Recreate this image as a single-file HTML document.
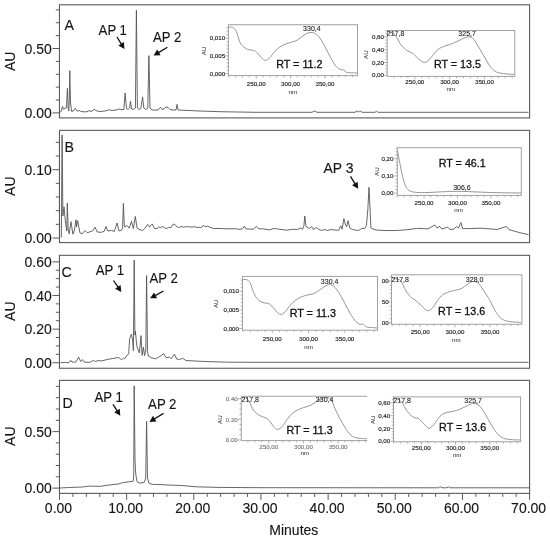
<!DOCTYPE html>
<html><head><meta charset="utf-8"><title>Chromatograms</title>
<style>html,body{margin:0;padding:0;background:#fff;}body{width:550px;height:537px;overflow:hidden;font-family:"Liberation Sans", sans-serif;}svg{display:block;filter:blur(0.5px);}</style>
</head><body>
<svg width="550" height="537" viewBox="0 0 550 537" font-family="'Liberation Sans', sans-serif">
<rect width="550" height="537" fill="#fff"/>
<line x1="52.5" y1="112.9" x2="59.47" y2="112.9" stroke="#5a5a5a" stroke-width="1"/>
<line x1="55.8" y1="100.02" x2="59.47" y2="100.02" stroke="#5a5a5a" stroke-width="1"/>
<line x1="55.8" y1="87.14" x2="59.47" y2="87.14" stroke="#5a5a5a" stroke-width="1"/>
<line x1="55.8" y1="74.26" x2="59.47" y2="74.26" stroke="#5a5a5a" stroke-width="1"/>
<line x1="55.8" y1="61.38" x2="59.47" y2="61.38" stroke="#5a5a5a" stroke-width="1"/>
<line x1="52.5" y1="48.5" x2="59.47" y2="48.5" stroke="#5a5a5a" stroke-width="1"/>
<line x1="55.8" y1="35.62" x2="59.47" y2="35.62" stroke="#5a5a5a" stroke-width="1"/>
<line x1="55.8" y1="22.74" x2="59.47" y2="22.74" stroke="#5a5a5a" stroke-width="1"/>
<line x1="55.8" y1="9.86" x2="59.47" y2="9.86" stroke="#5a5a5a" stroke-width="1"/>
<text transform="translate(51.8,118.2) scale(1,1.06)" font-size="14" fill="#151515" stroke="#151515" stroke-width="0.12" text-anchor="end" >0.00</text>
<text transform="translate(51.8,53.8) scale(1,1.06)" font-size="14" fill="#151515" stroke="#151515" stroke-width="0.12" text-anchor="end" >0.50</text>
<text transform="translate(15.2,61.3) rotate(-90)" font-size="14" fill="#151515" stroke="#151515" stroke-width="0.12" text-anchor="middle">AU</text>
<text transform="translate(64.6,30) scale(1,1.06)" font-size="14.2" fill="#151515" stroke="#151515" stroke-width="0.12" text-anchor="start" >A</text>
<line x1="52.5" y1="238" x2="59.47" y2="238" stroke="#5a5a5a" stroke-width="1"/>
<line x1="55.8" y1="224.34" x2="59.47" y2="224.34" stroke="#5a5a5a" stroke-width="1"/>
<line x1="55.8" y1="210.68" x2="59.47" y2="210.68" stroke="#5a5a5a" stroke-width="1"/>
<line x1="55.8" y1="197.02" x2="59.47" y2="197.02" stroke="#5a5a5a" stroke-width="1"/>
<line x1="55.8" y1="183.36" x2="59.47" y2="183.36" stroke="#5a5a5a" stroke-width="1"/>
<line x1="52.5" y1="169.7" x2="59.47" y2="169.7" stroke="#5a5a5a" stroke-width="1"/>
<line x1="55.8" y1="156.04" x2="59.47" y2="156.04" stroke="#5a5a5a" stroke-width="1"/>
<line x1="55.8" y1="142.38" x2="59.47" y2="142.38" stroke="#5a5a5a" stroke-width="1"/>
<text transform="translate(51.8,243.3) scale(1,1.06)" font-size="14" fill="#151515" stroke="#151515" stroke-width="0.12" text-anchor="end" >0.00</text>
<text transform="translate(51.8,175) scale(1,1.06)" font-size="14" fill="#151515" stroke="#151515" stroke-width="0.12" text-anchor="end" >0.10</text>
<text transform="translate(15.2,186.2) rotate(-90)" font-size="14" fill="#151515" stroke="#151515" stroke-width="0.12" text-anchor="middle">AU</text>
<text transform="translate(64.6,151.6) scale(1,1.06)" font-size="14.2" fill="#151515" stroke="#151515" stroke-width="0.12" text-anchor="start" >B</text>
<line x1="52.5" y1="362.75" x2="59.47" y2="362.75" stroke="#5a5a5a" stroke-width="1"/>
<line x1="55.8" y1="354.34" x2="59.47" y2="354.34" stroke="#5a5a5a" stroke-width="1"/>
<line x1="55.8" y1="345.93" x2="59.47" y2="345.93" stroke="#5a5a5a" stroke-width="1"/>
<line x1="55.8" y1="337.52" x2="59.47" y2="337.52" stroke="#5a5a5a" stroke-width="1"/>
<line x1="52.5" y1="329.11" x2="59.47" y2="329.11" stroke="#5a5a5a" stroke-width="1"/>
<line x1="55.8" y1="320.7" x2="59.47" y2="320.7" stroke="#5a5a5a" stroke-width="1"/>
<line x1="55.8" y1="312.29" x2="59.47" y2="312.29" stroke="#5a5a5a" stroke-width="1"/>
<line x1="55.8" y1="303.88" x2="59.47" y2="303.88" stroke="#5a5a5a" stroke-width="1"/>
<line x1="52.5" y1="295.47" x2="59.47" y2="295.47" stroke="#5a5a5a" stroke-width="1"/>
<line x1="55.8" y1="287.06" x2="59.47" y2="287.06" stroke="#5a5a5a" stroke-width="1"/>
<line x1="55.8" y1="278.65" x2="59.47" y2="278.65" stroke="#5a5a5a" stroke-width="1"/>
<line x1="55.8" y1="270.24" x2="59.47" y2="270.24" stroke="#5a5a5a" stroke-width="1"/>
<line x1="52.5" y1="261.83" x2="59.47" y2="261.83" stroke="#5a5a5a" stroke-width="1"/>
<text transform="translate(51.8,368.05) scale(1,1.06)" font-size="14" fill="#151515" stroke="#151515" stroke-width="0.12" text-anchor="end" >0.00</text>
<text transform="translate(51.8,334.41) scale(1,1.06)" font-size="14" fill="#151515" stroke="#151515" stroke-width="0.12" text-anchor="end" >0.20</text>
<text transform="translate(51.8,300.77) scale(1,1.06)" font-size="14" fill="#151515" stroke="#151515" stroke-width="0.12" text-anchor="end" >0.40</text>
<text transform="translate(51.8,267.13) scale(1,1.06)" font-size="14" fill="#151515" stroke="#151515" stroke-width="0.12" text-anchor="end" >0.60</text>
<text transform="translate(15.2,311.2) rotate(-90)" font-size="14" fill="#151515" stroke="#151515" stroke-width="0.12" text-anchor="middle">AU</text>
<text transform="translate(61.4,277) scale(1,1.06)" font-size="14.2" fill="#151515" stroke="#151515" stroke-width="0.12" text-anchor="start" >C</text>
<line x1="52.5" y1="488.1" x2="59.47" y2="488.1" stroke="#5a5a5a" stroke-width="1"/>
<line x1="55.8" y1="476.8" x2="59.47" y2="476.8" stroke="#5a5a5a" stroke-width="1"/>
<line x1="55.8" y1="465.5" x2="59.47" y2="465.5" stroke="#5a5a5a" stroke-width="1"/>
<line x1="55.8" y1="454.2" x2="59.47" y2="454.2" stroke="#5a5a5a" stroke-width="1"/>
<line x1="55.8" y1="442.9" x2="59.47" y2="442.9" stroke="#5a5a5a" stroke-width="1"/>
<line x1="52.5" y1="431.6" x2="59.47" y2="431.6" stroke="#5a5a5a" stroke-width="1"/>
<line x1="55.8" y1="420.3" x2="59.47" y2="420.3" stroke="#5a5a5a" stroke-width="1"/>
<line x1="55.8" y1="409" x2="59.47" y2="409" stroke="#5a5a5a" stroke-width="1"/>
<line x1="55.8" y1="397.7" x2="59.47" y2="397.7" stroke="#5a5a5a" stroke-width="1"/>
<line x1="55.8" y1="386.4" x2="59.47" y2="386.4" stroke="#5a5a5a" stroke-width="1"/>
<text transform="translate(51.8,493.4) scale(1,1.06)" font-size="14" fill="#151515" stroke="#151515" stroke-width="0.12" text-anchor="end" >0.00</text>
<text transform="translate(51.8,436.9) scale(1,1.06)" font-size="14" fill="#151515" stroke="#151515" stroke-width="0.12" text-anchor="end" >0.50</text>
<text transform="translate(15.2,436.2) rotate(-90)" font-size="14" fill="#151515" stroke="#151515" stroke-width="0.12" text-anchor="middle">AU</text>
<text transform="translate(62.4,408.1) scale(1,1.06)" font-size="14.2" fill="#151515" stroke="#151515" stroke-width="0.12" text-anchor="start" >D</text>
<line x1="59.47" y1="493.37" x2="59.47" y2="499.87" stroke="#5a5a5a" stroke-width="1"/>
<line x1="72.9" y1="493.37" x2="72.9" y2="496.87" stroke="#5a5a5a" stroke-width="1"/>
<line x1="86.33" y1="493.37" x2="86.33" y2="496.87" stroke="#5a5a5a" stroke-width="1"/>
<line x1="99.77" y1="493.37" x2="99.77" y2="496.87" stroke="#5a5a5a" stroke-width="1"/>
<line x1="113.2" y1="493.37" x2="113.2" y2="496.87" stroke="#5a5a5a" stroke-width="1"/>
<line x1="126.63" y1="493.37" x2="126.63" y2="499.87" stroke="#5a5a5a" stroke-width="1"/>
<line x1="140.06" y1="493.37" x2="140.06" y2="496.87" stroke="#5a5a5a" stroke-width="1"/>
<line x1="153.5" y1="493.37" x2="153.5" y2="496.87" stroke="#5a5a5a" stroke-width="1"/>
<line x1="166.93" y1="493.37" x2="166.93" y2="496.87" stroke="#5a5a5a" stroke-width="1"/>
<line x1="180.36" y1="493.37" x2="180.36" y2="496.87" stroke="#5a5a5a" stroke-width="1"/>
<line x1="193.79" y1="493.37" x2="193.79" y2="499.87" stroke="#5a5a5a" stroke-width="1"/>
<line x1="207.23" y1="493.37" x2="207.23" y2="496.87" stroke="#5a5a5a" stroke-width="1"/>
<line x1="220.66" y1="493.37" x2="220.66" y2="496.87" stroke="#5a5a5a" stroke-width="1"/>
<line x1="234.09" y1="493.37" x2="234.09" y2="496.87" stroke="#5a5a5a" stroke-width="1"/>
<line x1="247.52" y1="493.37" x2="247.52" y2="496.87" stroke="#5a5a5a" stroke-width="1"/>
<line x1="260.95" y1="493.37" x2="260.95" y2="499.87" stroke="#5a5a5a" stroke-width="1"/>
<line x1="274.39" y1="493.37" x2="274.39" y2="496.87" stroke="#5a5a5a" stroke-width="1"/>
<line x1="287.82" y1="493.37" x2="287.82" y2="496.87" stroke="#5a5a5a" stroke-width="1"/>
<line x1="301.25" y1="493.37" x2="301.25" y2="496.87" stroke="#5a5a5a" stroke-width="1"/>
<line x1="314.68" y1="493.37" x2="314.68" y2="496.87" stroke="#5a5a5a" stroke-width="1"/>
<line x1="328.12" y1="493.37" x2="328.12" y2="499.87" stroke="#5a5a5a" stroke-width="1"/>
<line x1="341.55" y1="493.37" x2="341.55" y2="496.87" stroke="#5a5a5a" stroke-width="1"/>
<line x1="354.98" y1="493.37" x2="354.98" y2="496.87" stroke="#5a5a5a" stroke-width="1"/>
<line x1="368.41" y1="493.37" x2="368.41" y2="496.87" stroke="#5a5a5a" stroke-width="1"/>
<line x1="381.84" y1="493.37" x2="381.84" y2="496.87" stroke="#5a5a5a" stroke-width="1"/>
<line x1="395.28" y1="493.37" x2="395.28" y2="499.87" stroke="#5a5a5a" stroke-width="1"/>
<line x1="408.71" y1="493.37" x2="408.71" y2="496.87" stroke="#5a5a5a" stroke-width="1"/>
<line x1="422.14" y1="493.37" x2="422.14" y2="496.87" stroke="#5a5a5a" stroke-width="1"/>
<line x1="435.57" y1="493.37" x2="435.57" y2="496.87" stroke="#5a5a5a" stroke-width="1"/>
<line x1="449.01" y1="493.37" x2="449.01" y2="496.87" stroke="#5a5a5a" stroke-width="1"/>
<line x1="462.44" y1="493.37" x2="462.44" y2="499.87" stroke="#5a5a5a" stroke-width="1"/>
<line x1="475.87" y1="493.37" x2="475.87" y2="496.87" stroke="#5a5a5a" stroke-width="1"/>
<line x1="489.3" y1="493.37" x2="489.3" y2="496.87" stroke="#5a5a5a" stroke-width="1"/>
<line x1="502.74" y1="493.37" x2="502.74" y2="496.87" stroke="#5a5a5a" stroke-width="1"/>
<line x1="516.17" y1="493.37" x2="516.17" y2="496.87" stroke="#5a5a5a" stroke-width="1"/>
<line x1="529.6" y1="493.37" x2="529.6" y2="499.87" stroke="#5a5a5a" stroke-width="1"/>
<text transform="translate(58.47,512.7) scale(1,1.06)" font-size="14" fill="#151515" stroke="#151515" stroke-width="0.12" text-anchor="middle" >0.00</text>
<text transform="translate(125.63,512.7) scale(1,1.06)" font-size="14" fill="#151515" stroke="#151515" stroke-width="0.12" text-anchor="middle" >10.00</text>
<text transform="translate(192.79,512.7) scale(1,1.06)" font-size="14" fill="#151515" stroke="#151515" stroke-width="0.12" text-anchor="middle" >20.00</text>
<text transform="translate(259.95,512.7) scale(1,1.06)" font-size="14" fill="#151515" stroke="#151515" stroke-width="0.12" text-anchor="middle" >30.00</text>
<text transform="translate(327.12,512.7) scale(1,1.06)" font-size="14" fill="#151515" stroke="#151515" stroke-width="0.12" text-anchor="middle" >40.00</text>
<text transform="translate(394.28,512.7) scale(1,1.06)" font-size="14" fill="#151515" stroke="#151515" stroke-width="0.12" text-anchor="middle" >50.00</text>
<text transform="translate(461.44,512.7) scale(1,1.06)" font-size="14" fill="#151515" stroke="#151515" stroke-width="0.12" text-anchor="middle" >60.00</text>
<text transform="translate(528.6,512.7) scale(1,1.06)" font-size="14" fill="#151515" stroke="#151515" stroke-width="0.12" text-anchor="middle" >70.00</text>
<text transform="translate(293.8,534.7) scale(1,1.06)" font-size="14" fill="#151515" stroke="#151515" stroke-width="0.12" text-anchor="middle" >Minutes</text>
<polyline points="60.2,112 61,111.8 62.5,106.3 63.5,109.3 65,108.3 66.5,107.8 67.4,88.3 68.2,108 68.7,111 69.2,104 69.8,70.6 70.5,102 70.9,106 71.6,111.3 73.1,111.1 75.3,108.3 77.1,111.1 79.1,110.5 81.2,111.5 84,111.8 87,111.8 89,110.6 91,111.5 94.25,109.4 97,111 100,111.5 105,111 109.25,109.75 112,110.5 116,110 119.25,109 121,109.5 123.8,109.5 125.1,93 126.5,108.5 128,109.5 129.6,108 130.5,101.25 131.5,109 133,109.5 135.4,108 136.4,10.25 137.4,108 139,109.5 140.8,108.5 142.6,96.9 143.8,108 146,109.5 147.8,108 148.9,55.6 150,108 152,110 155,110 158,110 160.5,107.25 162,109.5 164,109 166,106.9 168,107.5 170,109.5 173,110 176,110 177,104.4 178,110 182,110.2 200,111 220,111.7 255,112.3 312,112.3 314.5,111 317,112.3 355,112.3 357,111 358.5,112 360,111 362,112.3 375,112.3 376.5,111.3 378,112.3 528.5,112.3" fill="none" stroke="#555555" stroke-width="0.9" stroke-linejoin="round"/>
<polyline points="61.3,237.5 62.1,135 62.9,216 64,206.8 65,218 66,226 66.8,231 67.3,203 68.2,230 69.2,233.8 71,221.7 72.9,234.2 74.5,230 75.9,219.8 76.6,226.8 77.7,220.7 79.9,232.8 82.2,233.8 85,230.5 87.3,232.8 89.7,231.9 92.4,231 95,227.2 97.1,231.9 100.8,232.4 104.1,231.4 106.1,226.5 107.8,231 111.5,230.5 114.3,231.4 117.1,223 119,231 121.3,230.5 122.6,228 123.4,203.5 124.3,226 125,227.2 126.9,225.4 129.2,228.2 131.5,221.2 133.4,228.6 135.3,216.5 137.1,228.2 139.9,229.6 142.7,230.5 145,228.2 147.8,224.4 149.7,227.2 150.5,225.5 152.3,224.1 154.5,228.6 157.3,228.6 158.6,226.8 160.5,227.7 162.7,226.5 164.5,227.7 166.4,228.6 168.6,227.5 170.9,227.7 173.2,224.1 175,224.5 176.8,226.8 178.6,227.5 180.9,226.6 183.6,227.1 186.4,226.6 189.1,226.8 191.8,227.1 195.5,226.8 198.2,227.7 200,227 201.4,227.7 203.5,225.2 205,226.8 207.3,226.1 210,227.3 213.6,228.5 220,228.5 227.3,228.8 236.4,228.8 240,229.4 242.7,228.6 244.4,226.1 245.9,228.8 250,229.1 253.2,229.3 256.4,226.4 258.6,228.8 263.6,228.8 269.1,230 274.4,228.4 276.4,228.8 280,229.3 286.4,230.2 292.7,229.3 297.3,229.5 300.3,228 302.5,229.2 303.9,226 304.8,216 306,226.5 308,227.8 309.8,228.5 311.6,226.5 313.5,229.6 316.2,227.4 318.5,229.2 321.6,230.5 324.8,229.5 327.5,230.5 330.7,229.6 336.2,230.1 338.5,230.5 340.7,225.8 342.1,229.2 343.9,218.7 345.3,224.2 346.6,226.9 348.1,220.6 349.7,227.9 352.3,229.5 355.4,230 358.5,230.5 361.7,228.4 364.8,228.4 366.4,225.8 367.8,210 369,187.3 370.1,210 370.9,227.9 373.1,229 376.25,230 384.6,230.5 396.2,230.5 406.4,229.8 416.5,228.4 428.2,228.8 434.7,225 436.9,227.9 439.5,226.2 442,229.1 447.5,227 449.9,229.5 454,229.1 456.5,226.5 458.4,228.2 460.9,222.6 462.7,228.6 469.5,228.6 481,228.2 497.4,229.5 503.1,227.5 506.4,226.5 508.8,229.5 518.6,232.4 528.5,234.7" fill="none" stroke="#555555" stroke-width="0.9" stroke-linejoin="round"/>
<polyline points="60.4,362.7 65.3,362.4 69,362.7 70.6,360.2 72,362.1 75.7,362.1 78.7,357.2 80.6,361.5 82.4,359.6 84.2,362.1 89.7,362.4 93.4,360.5 95.8,361.5 98,360.6 101.9,360.9 108,359.3 112.9,358.5 118.4,357.5 121.6,359.7 123.4,358.2 124.7,358.8 126.9,355.3 128.7,353.9 129.6,338.75 131.4,334.1 132.7,340.5 133.4,350.8 134.2,260.2 134.9,335 135.4,331.2 136.75,345.9 139.4,353 141,335.6 142.1,355.3 143.4,347.2 144.6,355.7 145.8,350 146.6,275.6 147.5,352 148.4,356.2 151.9,357.9 155.5,358.8 158.6,357.3 163.7,353.6 165.9,357.6 169.5,357.3 171.4,358.7 174.5,354.2 176.8,359.1 179.5,359.5 182.6,358.2 185.9,360.5 200.5,361.3 227.7,362.2 255,362.3 528.5,362.3" fill="none" stroke="#555555" stroke-width="0.9" stroke-linejoin="round"/>
<polyline points="60,488 68.6,487.5 82.3,487 89.1,486.1 100,486.4 106.8,485.3 115,484.3 118,484.1 122.5,482.7 128.9,481.8 133,481.4 133.7,478 134.2,385.8 135,460 135.7,473.6 137.1,481.8 139.8,483.2 144.4,482.3 145.7,478 146.6,421.4 147.5,478 148.9,483.2 152.5,484.4 158.9,484.5 168,485 181.8,485.5 196.4,486.8 218.2,487.4 260,487.7 438.5,487.8 440.2,486.6 442,487.8 447,487.8 448.3,486.8 449.8,487.8 529,487.8" fill="none" stroke="#555555" stroke-width="0.9" stroke-linejoin="round"/>
<text transform="translate(98.60,34.70) scale(1,1.05)" font-size="13.2" fill="#151515" stroke="#151515" stroke-width="0.12">AP 1</text>
<line x1="117.00" y1="37.00" x2="121.69" y2="44.66" stroke="#111" stroke-width="1.3"/>
<polygon points="124.40,49.10 118.35,45.53 123.98,42.09" fill="#111"/>
<text transform="translate(152.90,42.25) scale(1,1.05)" font-size="13.2" fill="#151515" stroke="#151515" stroke-width="0.12">AP 2</text>
<line x1="167.40" y1="47.25" x2="158.05" y2="52.91" stroke="#111" stroke-width="1.3"/>
<polygon points="153.60,55.60 157.20,49.57 160.61,55.21" fill="#111"/>
<text transform="translate(323.40,172.50) scale(1,1.05)" font-size="14" fill="#151515" stroke="#151515" stroke-width="0.12">AP 3</text>
<line x1="350.50" y1="176.30" x2="355.40" y2="184.36" stroke="#111" stroke-width="1.3"/>
<polygon points="358.10,188.80 352.06,185.22 357.70,181.79" fill="#111"/>
<text transform="translate(95.70,275.10) scale(1,1.05)" font-size="13.2" fill="#151515" stroke="#151515" stroke-width="0.12">AP 1</text>
<line x1="113.50" y1="280.50" x2="118.38" y2="287.70" stroke="#111" stroke-width="1.3"/>
<polygon points="121.30,292.00 115.09,288.72 120.55,285.02" fill="#111"/>
<text transform="translate(149.40,282.90) scale(1,1.05)" font-size="13.2" fill="#151515" stroke="#151515" stroke-width="0.12">AP 2</text>
<line x1="163.50" y1="291.00" x2="154.67" y2="295.81" stroke="#111" stroke-width="1.3"/>
<polygon points="150.10,298.30 153.97,292.44 157.12,298.23" fill="#111"/>
<text transform="translate(94.50,401.60) scale(1,1.05)" font-size="13.2" fill="#151515" stroke="#151515" stroke-width="0.12">AP 1</text>
<line x1="113.00" y1="404.30" x2="117.51" y2="411.41" stroke="#111" stroke-width="1.3"/>
<polygon points="120.30,415.80 114.19,412.33 119.76,408.80" fill="#111"/>
<text transform="translate(148.10,409.20) scale(1,1.05)" font-size="13.2" fill="#151515" stroke="#151515" stroke-width="0.12">AP 2</text>
<line x1="163.50" y1="413.40" x2="153.85" y2="419.22" stroke="#111" stroke-width="1.3"/>
<polygon points="149.40,421.90 153.01,415.87 156.41,421.53" fill="#111"/>
<rect x="228.4" y="24.75" width="129.1" height="50.85" fill="#fff"/>
<path d="M229,27.1 C229.62,27.17 231.49,26.81 232.7,27.5 C233.91,28.19 235.03,28.75 236.25,31.25 C237.47,33.75 238.75,39.89 240,42.5 C241.25,45.11 242.5,45.75 243.75,46.9 C245,48.05 246.04,48.85 247.5,49.4 C248.96,49.95 251,49.77 252.5,50.2 C254,50.63 255.04,50.78 256.5,52 C257.96,53.22 259.73,56.1 261.25,57.5 C262.77,58.9 264.14,60.4 265.6,60.4 C267.06,60.4 268.43,59.02 270,57.5 C271.57,55.98 273.33,53.02 275,51.25 C276.67,49.48 278.12,48.15 280,46.9 C281.88,45.65 284.17,44.58 286.25,43.75 C288.33,42.92 290.62,42.52 292.5,41.9 C294.38,41.27 295.83,40.94 297.5,40 C299.17,39.06 300.83,37.4 302.5,36.25 C304.17,35.1 305.83,33.73 307.5,33.1 C309.17,32.48 311.04,32.28 312.5,32.5 C313.96,32.72 315,33.47 316.25,34.4 C317.5,35.33 318.54,36.02 320,38.1 C321.46,40.18 323.33,43.88 325,46.9 C326.67,49.92 328.33,53.23 330,56.25 C331.67,59.27 333.33,62.81 335,65 C336.67,67.19 338.54,68.57 340,69.4 C341.46,70.23 342.71,69.53 343.75,70 C344.79,70.47 345.21,71.79 346.25,72.25 C347.29,72.71 348.21,72.62 350,72.75 C351.79,72.88 355.83,72.96 357,73" fill="none" stroke="#8a8a8a" stroke-width="0.9"/>
<rect x="228.4" y="24.75" width="129.1" height="50.85" fill="none" stroke="#a0a0a0" stroke-width="1"/>
<line x1="225.2" y1="73.6" x2="228.4" y2="73.6" stroke="#a0a0a0" stroke-width="0.8"/>
<line x1="226.6" y1="70.07" x2="228.4" y2="70.07" stroke="#a0a0a0" stroke-width="0.8"/>
<line x1="226.6" y1="66.54" x2="228.4" y2="66.54" stroke="#a0a0a0" stroke-width="0.8"/>
<line x1="226.6" y1="63.01" x2="228.4" y2="63.01" stroke="#a0a0a0" stroke-width="0.8"/>
<line x1="226.6" y1="59.48" x2="228.4" y2="59.48" stroke="#a0a0a0" stroke-width="0.8"/>
<line x1="225.2" y1="55.95" x2="228.4" y2="55.95" stroke="#a0a0a0" stroke-width="0.8"/>
<line x1="226.6" y1="52.42" x2="228.4" y2="52.42" stroke="#a0a0a0" stroke-width="0.8"/>
<line x1="226.6" y1="48.89" x2="228.4" y2="48.89" stroke="#a0a0a0" stroke-width="0.8"/>
<line x1="226.6" y1="45.36" x2="228.4" y2="45.36" stroke="#a0a0a0" stroke-width="0.8"/>
<line x1="226.6" y1="41.83" x2="228.4" y2="41.83" stroke="#a0a0a0" stroke-width="0.8"/>
<line x1="225.2" y1="38.3" x2="228.4" y2="38.3" stroke="#a0a0a0" stroke-width="0.8"/>
<line x1="226.6" y1="34.77" x2="228.4" y2="34.77" stroke="#a0a0a0" stroke-width="0.8"/>
<line x1="226.6" y1="31.24" x2="228.4" y2="31.24" stroke="#a0a0a0" stroke-width="0.8"/>
<line x1="226.6" y1="27.71" x2="228.4" y2="27.71" stroke="#a0a0a0" stroke-width="0.8"/>
<text x="225.2" y="75.75" font-size="6.2" fill="#202020" stroke="#202020" stroke-width="0.15" text-anchor="end">0,000</text>
<text x="225.2" y="58.1" font-size="6.2" fill="#202020" stroke="#202020" stroke-width="0.15" text-anchor="end">0,005</text>
<text x="225.2" y="40.45" font-size="6.2" fill="#202020" stroke="#202020" stroke-width="0.15" text-anchor="end">0,010</text>
<line x1="228.74" y1="75.6" x2="228.74" y2="77.4" stroke="#a0a0a0" stroke-width="0.8"/>
<line x1="235.61" y1="75.6" x2="235.61" y2="77.4" stroke="#a0a0a0" stroke-width="0.8"/>
<line x1="242.48" y1="75.6" x2="242.48" y2="77.4" stroke="#a0a0a0" stroke-width="0.8"/>
<line x1="249.36" y1="75.6" x2="249.36" y2="77.4" stroke="#a0a0a0" stroke-width="0.8"/>
<line x1="256.23" y1="75.6" x2="256.23" y2="78.6" stroke="#a0a0a0" stroke-width="0.8"/>
<text x="256.23" y="85.6" font-size="6.2" fill="#202020" stroke="#202020" stroke-width="0.15" text-anchor="middle">250,00</text>
<line x1="263.1" y1="75.6" x2="263.1" y2="77.4" stroke="#a0a0a0" stroke-width="0.8"/>
<line x1="269.97" y1="75.6" x2="269.97" y2="77.4" stroke="#a0a0a0" stroke-width="0.8"/>
<line x1="276.84" y1="75.6" x2="276.84" y2="77.4" stroke="#a0a0a0" stroke-width="0.8"/>
<line x1="283.71" y1="75.6" x2="283.71" y2="77.4" stroke="#a0a0a0" stroke-width="0.8"/>
<line x1="290.58" y1="75.6" x2="290.58" y2="78.6" stroke="#a0a0a0" stroke-width="0.8"/>
<text x="290.58" y="85.6" font-size="6.2" fill="#202020" stroke="#202020" stroke-width="0.15" text-anchor="middle">300,00</text>
<line x1="297.45" y1="75.6" x2="297.45" y2="77.4" stroke="#a0a0a0" stroke-width="0.8"/>
<line x1="304.32" y1="75.6" x2="304.32" y2="77.4" stroke="#a0a0a0" stroke-width="0.8"/>
<line x1="311.19" y1="75.6" x2="311.19" y2="77.4" stroke="#a0a0a0" stroke-width="0.8"/>
<line x1="318.06" y1="75.6" x2="318.06" y2="77.4" stroke="#a0a0a0" stroke-width="0.8"/>
<line x1="324.93" y1="75.6" x2="324.93" y2="78.6" stroke="#a0a0a0" stroke-width="0.8"/>
<text x="324.93" y="85.6" font-size="6.2" fill="#202020" stroke="#202020" stroke-width="0.15" text-anchor="middle">350,00</text>
<line x1="331.8" y1="75.6" x2="331.8" y2="77.4" stroke="#a0a0a0" stroke-width="0.8"/>
<line x1="338.67" y1="75.6" x2="338.67" y2="77.4" stroke="#a0a0a0" stroke-width="0.8"/>
<line x1="345.55" y1="75.6" x2="345.55" y2="77.4" stroke="#a0a0a0" stroke-width="0.8"/>
<line x1="352.42" y1="75.6" x2="352.42" y2="77.4" stroke="#a0a0a0" stroke-width="0.8"/>
<text x="292.8" y="93.7" font-size="6.2" fill="#202020" text-anchor="middle">nm</text>
<text transform="translate(206.4,51) rotate(-90)" font-size="6.2" fill="#202020" text-anchor="middle">AU</text>
<text x="303.1" y="31.25" font-size="7.0" fill="#1a1a1a" stroke="#1a1a1a" stroke-width="0.1">330,4</text>
<text x="276.2" y="68" font-size="10.75" fill="#111" stroke="#111" stroke-width="0.3">RT = 11.2</text>
<rect x="387.2" y="30.5" width="127.55" height="45.9" fill="#fff"/>
<path d="M388,31.5 C388.67,31.75 390.62,32.15 392,33 C393.38,33.85 394.92,34.83 396.25,36.6 C397.58,38.37 398.77,41.75 400,43.6 C401.23,45.45 402.38,46.48 403.6,47.7 C404.82,48.92 406.08,50.13 407.3,50.9 C408.52,51.67 409.7,51.62 410.9,52.3 C412.1,52.98 413.28,53.95 414.5,55 C415.72,56.05 416.98,57.52 418.2,58.6 C419.42,59.68 420.75,60.87 421.8,61.5 C422.85,62.13 423.58,62.42 424.5,62.4 C425.42,62.38 426.23,62.18 427.3,61.4 C428.37,60.62 429.7,59.07 430.9,57.7 C432.1,56.33 433.28,54.63 434.5,53.2 C435.72,51.77 436.98,50.08 438.2,49.1 C439.42,48.12 440.58,47.87 441.8,47.3 C443.02,46.73 444.28,46.12 445.5,45.7 C446.72,45.28 448.02,45.15 449.1,44.8 C450.18,44.45 450.6,44.19 452,43.6 C453.4,43.01 455.75,42.06 457.5,41.25 C459.25,40.44 460.83,39.48 462.5,38.75 C464.17,38.02 465.83,37.01 467.5,36.9 C469.17,36.79 470.83,36.75 472.5,38.1 C474.17,39.45 475.83,42.39 477.5,45 C479.17,47.61 481.04,51.25 482.5,53.75 C483.96,56.25 485,57.92 486.25,60 C487.5,62.08 488.54,64.38 490,66.25 C491.46,68.12 493.33,70.11 495,71.25 C496.67,72.39 497.92,72.64 500,73.1 C502.08,73.56 505.17,73.77 507.5,74 C509.83,74.23 512.92,74.42 514,74.5" fill="none" stroke="#8a8a8a" stroke-width="0.9"/>
<rect x="387.2" y="30.5" width="127.55" height="45.9" fill="none" stroke="#a0a0a0" stroke-width="1"/>
<line x1="384" y1="75.3" x2="387.2" y2="75.3" stroke="#a0a0a0" stroke-width="0.8"/>
<line x1="385.4" y1="72.1" x2="387.2" y2="72.1" stroke="#a0a0a0" stroke-width="0.8"/>
<line x1="385.4" y1="68.9" x2="387.2" y2="68.9" stroke="#a0a0a0" stroke-width="0.8"/>
<line x1="385.4" y1="65.7" x2="387.2" y2="65.7" stroke="#a0a0a0" stroke-width="0.8"/>
<line x1="384" y1="62.5" x2="387.2" y2="62.5" stroke="#a0a0a0" stroke-width="0.8"/>
<line x1="385.4" y1="59.3" x2="387.2" y2="59.3" stroke="#a0a0a0" stroke-width="0.8"/>
<line x1="385.4" y1="56.1" x2="387.2" y2="56.1" stroke="#a0a0a0" stroke-width="0.8"/>
<line x1="385.4" y1="52.9" x2="387.2" y2="52.9" stroke="#a0a0a0" stroke-width="0.8"/>
<line x1="384" y1="49.7" x2="387.2" y2="49.7" stroke="#a0a0a0" stroke-width="0.8"/>
<line x1="385.4" y1="46.5" x2="387.2" y2="46.5" stroke="#a0a0a0" stroke-width="0.8"/>
<line x1="385.4" y1="43.3" x2="387.2" y2="43.3" stroke="#a0a0a0" stroke-width="0.8"/>
<line x1="385.4" y1="40.1" x2="387.2" y2="40.1" stroke="#a0a0a0" stroke-width="0.8"/>
<line x1="384" y1="36.9" x2="387.2" y2="36.9" stroke="#a0a0a0" stroke-width="0.8"/>
<line x1="385.4" y1="33.7" x2="387.2" y2="33.7" stroke="#a0a0a0" stroke-width="0.8"/>
<line x1="385.4" y1="30.5" x2="387.2" y2="30.5" stroke="#a0a0a0" stroke-width="0.8"/>
<text x="384" y="77.45" font-size="6.2" fill="#202020" stroke="#202020" stroke-width="0.15" text-anchor="end">0,00</text>
<text x="384" y="64.65" font-size="6.2" fill="#202020" stroke="#202020" stroke-width="0.15" text-anchor="end">0,20</text>
<text x="384" y="51.85" font-size="6.2" fill="#202020" stroke="#202020" stroke-width="0.15" text-anchor="end">0,40</text>
<text x="384" y="39.05" font-size="6.2" fill="#202020" stroke="#202020" stroke-width="0.15" text-anchor="end">0,60</text>
<line x1="393.95" y1="76.4" x2="393.95" y2="78.2" stroke="#a0a0a0" stroke-width="0.8"/>
<line x1="400.91" y1="76.4" x2="400.91" y2="78.2" stroke="#a0a0a0" stroke-width="0.8"/>
<line x1="407.87" y1="76.4" x2="407.87" y2="78.2" stroke="#a0a0a0" stroke-width="0.8"/>
<line x1="414.83" y1="76.4" x2="414.83" y2="79.4" stroke="#a0a0a0" stroke-width="0.8"/>
<text x="414.83" y="84.2" font-size="6.2" fill="#202020" stroke="#202020" stroke-width="0.15" text-anchor="middle">250,00</text>
<line x1="421.78" y1="76.4" x2="421.78" y2="78.2" stroke="#a0a0a0" stroke-width="0.8"/>
<line x1="428.74" y1="76.4" x2="428.74" y2="78.2" stroke="#a0a0a0" stroke-width="0.8"/>
<line x1="435.7" y1="76.4" x2="435.7" y2="78.2" stroke="#a0a0a0" stroke-width="0.8"/>
<line x1="442.66" y1="76.4" x2="442.66" y2="78.2" stroke="#a0a0a0" stroke-width="0.8"/>
<line x1="449.62" y1="76.4" x2="449.62" y2="79.4" stroke="#a0a0a0" stroke-width="0.8"/>
<text x="449.62" y="84.2" font-size="6.2" fill="#202020" stroke="#202020" stroke-width="0.15" text-anchor="middle">300,00</text>
<line x1="456.58" y1="76.4" x2="456.58" y2="78.2" stroke="#a0a0a0" stroke-width="0.8"/>
<line x1="463.54" y1="76.4" x2="463.54" y2="78.2" stroke="#a0a0a0" stroke-width="0.8"/>
<line x1="470.49" y1="76.4" x2="470.49" y2="78.2" stroke="#a0a0a0" stroke-width="0.8"/>
<line x1="477.45" y1="76.4" x2="477.45" y2="78.2" stroke="#a0a0a0" stroke-width="0.8"/>
<line x1="484.41" y1="76.4" x2="484.41" y2="79.4" stroke="#a0a0a0" stroke-width="0.8"/>
<text x="484.41" y="84.2" font-size="6.2" fill="#202020" stroke="#202020" stroke-width="0.15" text-anchor="middle">350,00</text>
<line x1="491.37" y1="76.4" x2="491.37" y2="78.2" stroke="#a0a0a0" stroke-width="0.8"/>
<line x1="498.33" y1="76.4" x2="498.33" y2="78.2" stroke="#a0a0a0" stroke-width="0.8"/>
<line x1="505.29" y1="76.4" x2="505.29" y2="78.2" stroke="#a0a0a0" stroke-width="0.8"/>
<line x1="512.24" y1="76.4" x2="512.24" y2="78.2" stroke="#a0a0a0" stroke-width="0.8"/>
<text x="450.8" y="91" font-size="6.2" fill="#202020" text-anchor="middle">nm</text>
<text transform="translate(368,54.7) rotate(-90)" font-size="6.2" fill="#202020" text-anchor="middle">AU</text>
<text x="386.8" y="36" font-size="7.0" fill="#1a1a1a" stroke="#1a1a1a" stroke-width="0.1">217,8</text>
<text x="458.35" y="36" font-size="7.0" fill="#1a1a1a" stroke="#1a1a1a" stroke-width="0.1">325,7</text>
<text x="433.9" y="67.9" font-size="10.75" fill="#111" stroke="#111" stroke-width="0.3">RT = 13.5</text>
<rect x="397.3" y="147.7" width="124" height="47.7" fill="#fff"/>
<path d="M397.5,150.5 C397.92,152.75 399.13,159.62 400,164 C400.87,168.38 401.78,173.15 402.7,176.8 C403.62,180.45 404.43,183.62 405.5,185.9 C406.57,188.18 407.43,189.43 409.1,190.5 C410.77,191.57 412.35,191.97 415.5,192.3 C418.65,192.63 423.92,192.57 428,192.5 C432.08,192.43 436,192.08 440,191.9 C444,191.72 448.33,191.48 452,191.4 C455.67,191.32 458.17,191.32 462,191.4 C465.83,191.48 470.33,191.72 475,191.9 C479.67,192.08 485,192.35 490,192.5 C495,192.65 499.83,192.72 505,192.8 C510.17,192.88 518.33,192.97 521,193" fill="none" stroke="#8a8a8a" stroke-width="0.9"/>
<rect x="397.3" y="147.7" width="124" height="47.7" fill="none" stroke="#a0a0a0" stroke-width="1"/>
<line x1="394.1" y1="193.2" x2="397.3" y2="193.2" stroke="#a0a0a0" stroke-width="0.8"/>
<line x1="395.5" y1="189.74" x2="397.3" y2="189.74" stroke="#a0a0a0" stroke-width="0.8"/>
<line x1="395.5" y1="186.28" x2="397.3" y2="186.28" stroke="#a0a0a0" stroke-width="0.8"/>
<line x1="395.5" y1="182.82" x2="397.3" y2="182.82" stroke="#a0a0a0" stroke-width="0.8"/>
<line x1="395.5" y1="179.36" x2="397.3" y2="179.36" stroke="#a0a0a0" stroke-width="0.8"/>
<line x1="394.1" y1="175.9" x2="397.3" y2="175.9" stroke="#a0a0a0" stroke-width="0.8"/>
<line x1="395.5" y1="172.44" x2="397.3" y2="172.44" stroke="#a0a0a0" stroke-width="0.8"/>
<line x1="395.5" y1="168.98" x2="397.3" y2="168.98" stroke="#a0a0a0" stroke-width="0.8"/>
<line x1="395.5" y1="165.52" x2="397.3" y2="165.52" stroke="#a0a0a0" stroke-width="0.8"/>
<line x1="395.5" y1="162.06" x2="397.3" y2="162.06" stroke="#a0a0a0" stroke-width="0.8"/>
<line x1="394.1" y1="158.6" x2="397.3" y2="158.6" stroke="#a0a0a0" stroke-width="0.8"/>
<line x1="395.5" y1="155.14" x2="397.3" y2="155.14" stroke="#a0a0a0" stroke-width="0.8"/>
<line x1="395.5" y1="151.68" x2="397.3" y2="151.68" stroke="#a0a0a0" stroke-width="0.8"/>
<line x1="395.5" y1="148.22" x2="397.3" y2="148.22" stroke="#a0a0a0" stroke-width="0.8"/>
<text x="393.5" y="195.35" font-size="6.2" fill="#202020" stroke="#202020" stroke-width="0.15" text-anchor="end">0,00</text>
<text x="393.5" y="178.05" font-size="6.2" fill="#202020" stroke="#202020" stroke-width="0.15" text-anchor="end">0,10</text>
<text x="393.5" y="160.75" font-size="6.2" fill="#202020" stroke="#202020" stroke-width="0.15" text-anchor="end">0,20</text>
<line x1="397.37" y1="195.4" x2="397.37" y2="197.2" stroke="#a0a0a0" stroke-width="0.8"/>
<line x1="404.05" y1="195.4" x2="404.05" y2="197.2" stroke="#a0a0a0" stroke-width="0.8"/>
<line x1="410.73" y1="195.4" x2="410.73" y2="197.2" stroke="#a0a0a0" stroke-width="0.8"/>
<line x1="417.41" y1="195.4" x2="417.41" y2="197.2" stroke="#a0a0a0" stroke-width="0.8"/>
<line x1="424.09" y1="195.4" x2="424.09" y2="198.4" stroke="#a0a0a0" stroke-width="0.8"/>
<text x="424.09" y="205.2" font-size="6.2" fill="#202020" stroke="#202020" stroke-width="0.15" text-anchor="middle">250,00</text>
<line x1="430.77" y1="195.4" x2="430.77" y2="197.2" stroke="#a0a0a0" stroke-width="0.8"/>
<line x1="437.45" y1="195.4" x2="437.45" y2="197.2" stroke="#a0a0a0" stroke-width="0.8"/>
<line x1="444.13" y1="195.4" x2="444.13" y2="197.2" stroke="#a0a0a0" stroke-width="0.8"/>
<line x1="450.82" y1="195.4" x2="450.82" y2="197.2" stroke="#a0a0a0" stroke-width="0.8"/>
<line x1="457.5" y1="195.4" x2="457.5" y2="198.4" stroke="#a0a0a0" stroke-width="0.8"/>
<text x="457.5" y="205.2" font-size="6.2" fill="#202020" stroke="#202020" stroke-width="0.15" text-anchor="middle">300,00</text>
<line x1="464.18" y1="195.4" x2="464.18" y2="197.2" stroke="#a0a0a0" stroke-width="0.8"/>
<line x1="470.86" y1="195.4" x2="470.86" y2="197.2" stroke="#a0a0a0" stroke-width="0.8"/>
<line x1="477.54" y1="195.4" x2="477.54" y2="197.2" stroke="#a0a0a0" stroke-width="0.8"/>
<line x1="484.22" y1="195.4" x2="484.22" y2="197.2" stroke="#a0a0a0" stroke-width="0.8"/>
<line x1="490.9" y1="195.4" x2="490.9" y2="198.4" stroke="#a0a0a0" stroke-width="0.8"/>
<text x="490.9" y="205.2" font-size="6.2" fill="#202020" stroke="#202020" stroke-width="0.15" text-anchor="middle">350,00</text>
<line x1="497.58" y1="195.4" x2="497.58" y2="197.2" stroke="#a0a0a0" stroke-width="0.8"/>
<line x1="504.26" y1="195.4" x2="504.26" y2="197.2" stroke="#a0a0a0" stroke-width="0.8"/>
<line x1="510.94" y1="195.4" x2="510.94" y2="197.2" stroke="#a0a0a0" stroke-width="0.8"/>
<line x1="517.63" y1="195.4" x2="517.63" y2="197.2" stroke="#a0a0a0" stroke-width="0.8"/>
<text x="458.6" y="212.4" font-size="6.2" fill="#202020" text-anchor="middle">nm</text>
<text transform="translate(379.2,171.6) rotate(-90)" font-size="6.2" fill="#202020" text-anchor="middle">AU</text>
<text x="453.2" y="189.5" font-size="7.0" fill="#1a1a1a" stroke="#1a1a1a" stroke-width="0.1">306,6</text>
<text x="438.7" y="167.2" font-size="10.75" fill="#111" stroke="#111" stroke-width="0.3">RT = 46.1</text>
<rect x="242.5" y="276.4" width="135" height="53.8" fill="#fff"/>
<path d="M243.1,279.4 C243.83,279.5 246.25,279.27 247.5,280 C248.75,280.73 249.67,281.88 250.6,283.75 C251.53,285.62 252.16,288.96 253.1,291.25 C254.04,293.54 255.1,295.83 256.25,297.5 C257.4,299.17 258.71,300.35 260,301.25 C261.29,302.15 262.54,302.52 264,302.9 C265.46,303.27 267.33,302.83 268.75,303.5 C270.17,304.17 271.04,305.4 272.5,306.9 C273.96,308.4 276.04,311.25 277.5,312.5 C278.96,313.75 280,314.5 281.25,314.4 C282.5,314.3 283.54,313.37 285,311.9 C286.46,310.43 288.33,307.48 290,305.6 C291.67,303.72 293.12,302.05 295,300.6 C296.88,299.15 299.17,297.83 301.25,296.9 C303.33,295.97 305.42,295.57 307.5,295 C309.58,294.43 311.88,294.23 313.75,293.5 C315.62,292.77 317.08,291.7 318.75,290.6 C320.42,289.5 322.08,287.9 323.75,286.9 C325.42,285.9 327.62,285.02 328.75,284.6 C329.88,284.18 329.46,283.92 330.5,284.4 C331.54,284.88 333.42,285.83 335,287.5 C336.58,289.17 338.33,291.69 340,294.4 C341.67,297.11 343.33,300.63 345,303.75 C346.67,306.87 348.33,310.29 350,313.1 C351.67,315.91 353.33,318.72 355,320.6 C356.67,322.48 358.65,323.83 360,324.4 C361.35,324.97 362.06,323.58 363.1,324 C364.14,324.42 364.68,326.32 366.25,326.9 C367.82,327.48 370.71,327.32 372.5,327.5 C374.29,327.68 376.25,327.92 377,328" fill="none" stroke="#8a8a8a" stroke-width="0.9"/>
<rect x="242.5" y="276.4" width="135" height="53.8" fill="none" stroke="#a0a0a0" stroke-width="1"/>
<line x1="239.3" y1="328.5" x2="242.5" y2="328.5" stroke="#a0a0a0" stroke-width="0.8"/>
<line x1="240.7" y1="324.77" x2="242.5" y2="324.77" stroke="#a0a0a0" stroke-width="0.8"/>
<line x1="240.7" y1="321.05" x2="242.5" y2="321.05" stroke="#a0a0a0" stroke-width="0.8"/>
<line x1="240.7" y1="317.32" x2="242.5" y2="317.32" stroke="#a0a0a0" stroke-width="0.8"/>
<line x1="240.7" y1="313.6" x2="242.5" y2="313.6" stroke="#a0a0a0" stroke-width="0.8"/>
<line x1="239.3" y1="309.88" x2="242.5" y2="309.88" stroke="#a0a0a0" stroke-width="0.8"/>
<line x1="240.7" y1="306.15" x2="242.5" y2="306.15" stroke="#a0a0a0" stroke-width="0.8"/>
<line x1="240.7" y1="302.43" x2="242.5" y2="302.43" stroke="#a0a0a0" stroke-width="0.8"/>
<line x1="240.7" y1="298.7" x2="242.5" y2="298.7" stroke="#a0a0a0" stroke-width="0.8"/>
<line x1="240.7" y1="294.98" x2="242.5" y2="294.98" stroke="#a0a0a0" stroke-width="0.8"/>
<line x1="239.3" y1="291.25" x2="242.5" y2="291.25" stroke="#a0a0a0" stroke-width="0.8"/>
<line x1="240.7" y1="287.52" x2="242.5" y2="287.52" stroke="#a0a0a0" stroke-width="0.8"/>
<line x1="240.7" y1="283.8" x2="242.5" y2="283.8" stroke="#a0a0a0" stroke-width="0.8"/>
<line x1="240.7" y1="280.07" x2="242.5" y2="280.07" stroke="#a0a0a0" stroke-width="0.8"/>
<text x="239" y="330.65" font-size="6.2" fill="#202020" stroke="#202020" stroke-width="0.15" text-anchor="end">0,000</text>
<text x="239" y="312.02" font-size="6.2" fill="#202020" stroke="#202020" stroke-width="0.15" text-anchor="end">0,005</text>
<text x="239" y="293.4" font-size="6.2" fill="#202020" stroke="#202020" stroke-width="0.15" text-anchor="end">0,010</text>
<line x1="243.23" y1="330.2" x2="243.23" y2="332" stroke="#a0a0a0" stroke-width="0.8"/>
<line x1="250.48" y1="330.2" x2="250.48" y2="332" stroke="#a0a0a0" stroke-width="0.8"/>
<line x1="257.74" y1="330.2" x2="257.74" y2="332" stroke="#a0a0a0" stroke-width="0.8"/>
<line x1="265" y1="330.2" x2="265" y2="332" stroke="#a0a0a0" stroke-width="0.8"/>
<line x1="272.26" y1="330.2" x2="272.26" y2="333.2" stroke="#a0a0a0" stroke-width="0.8"/>
<text x="272.26" y="341.3" font-size="6.2" fill="#202020" stroke="#202020" stroke-width="0.15" text-anchor="middle">250,00</text>
<line x1="279.52" y1="330.2" x2="279.52" y2="332" stroke="#a0a0a0" stroke-width="0.8"/>
<line x1="286.77" y1="330.2" x2="286.77" y2="332" stroke="#a0a0a0" stroke-width="0.8"/>
<line x1="294.03" y1="330.2" x2="294.03" y2="332" stroke="#a0a0a0" stroke-width="0.8"/>
<line x1="301.29" y1="330.2" x2="301.29" y2="332" stroke="#a0a0a0" stroke-width="0.8"/>
<line x1="308.55" y1="330.2" x2="308.55" y2="333.2" stroke="#a0a0a0" stroke-width="0.8"/>
<text x="308.55" y="341.3" font-size="6.2" fill="#202020" stroke="#202020" stroke-width="0.15" text-anchor="middle">300,00</text>
<line x1="315.81" y1="330.2" x2="315.81" y2="332" stroke="#a0a0a0" stroke-width="0.8"/>
<line x1="323.06" y1="330.2" x2="323.06" y2="332" stroke="#a0a0a0" stroke-width="0.8"/>
<line x1="330.32" y1="330.2" x2="330.32" y2="332" stroke="#a0a0a0" stroke-width="0.8"/>
<line x1="337.58" y1="330.2" x2="337.58" y2="332" stroke="#a0a0a0" stroke-width="0.8"/>
<line x1="344.84" y1="330.2" x2="344.84" y2="333.2" stroke="#a0a0a0" stroke-width="0.8"/>
<text x="344.84" y="341.3" font-size="6.2" fill="#202020" stroke="#202020" stroke-width="0.15" text-anchor="middle">350,00</text>
<line x1="352.1" y1="330.2" x2="352.1" y2="332" stroke="#a0a0a0" stroke-width="0.8"/>
<line x1="359.35" y1="330.2" x2="359.35" y2="332" stroke="#a0a0a0" stroke-width="0.8"/>
<line x1="366.61" y1="330.2" x2="366.61" y2="332" stroke="#a0a0a0" stroke-width="0.8"/>
<line x1="373.87" y1="330.2" x2="373.87" y2="332" stroke="#a0a0a0" stroke-width="0.8"/>
<text x="308.5" y="349.2" font-size="6.2" fill="#202020" text-anchor="middle">nm</text>
<text transform="translate(218.2,303.75) rotate(-90)" font-size="6.2" fill="#202020" text-anchor="middle">AU</text>
<text x="320.85" y="284" font-size="7.0" fill="#1a1a1a" stroke="#1a1a1a" stroke-width="0.1">330,4</text>
<text x="289.7" y="316.9" font-size="10.75" fill="#111" stroke="#111" stroke-width="0.3">RT = 11.3</text>
<rect x="391.5" y="274.8" width="130.4" height="49.45" fill="#fff"/>
<path d="M392,277.5 C392.83,277.75 395.47,278.35 397,279 C398.53,279.65 399.72,279.43 401.2,281.4 C402.68,283.37 404.23,288.12 405.9,290.8 C407.57,293.48 409.68,295.98 411.2,297.5 C412.72,299.02 413.53,298.77 415,299.9 C416.47,301.02 418.33,302.69 420,304.25 C421.67,305.81 423.65,308.17 425,309.25 C426.35,310.33 426.85,310.96 428.1,310.75 C429.35,310.54 430.93,309.71 432.5,308 C434.07,306.29 435.83,302.68 437.5,300.5 C439.17,298.32 440.83,296.25 442.5,294.9 C444.17,293.55 446.25,292.97 447.5,292.4 C448.75,291.83 448.67,291.87 450,291.5 C451.33,291.13 453.68,290.65 455.5,290.2 C457.32,289.75 459.4,289.42 460.9,288.8 C462.4,288.18 463.28,287.33 464.5,286.5 C465.72,285.67 467.13,284.55 468.2,283.8 C469.27,283.05 469.85,282.38 470.9,282 C471.95,281.62 473.43,281.42 474.5,281.5 C475.57,281.58 476.23,281.67 477.3,282.5 C478.37,283.33 479.7,284.92 480.9,286.5 C482.1,288.08 483.28,290.17 484.5,292 C485.72,293.83 487.12,295.75 488.2,297.5 C489.28,299.25 489.87,300.33 491,302.5 C492.13,304.67 493.5,308.02 495,310.5 C496.5,312.98 498.33,315.73 500,317.4 C501.67,319.07 503.12,319.77 505,320.5 C506.88,321.23 508.58,321.43 511.25,321.75 C513.92,322.07 519.38,322.29 521,322.4" fill="none" stroke="#8a8a8a" stroke-width="0.9"/>
<rect x="391.5" y="274.8" width="130.4" height="49.45" fill="none" stroke="#a0a0a0" stroke-width="1"/>
<line x1="388.3" y1="323" x2="391.5" y2="323" stroke="#a0a0a0" stroke-width="0.8"/>
<line x1="389.7" y1="318.8" x2="391.5" y2="318.8" stroke="#a0a0a0" stroke-width="0.8"/>
<line x1="389.7" y1="314.6" x2="391.5" y2="314.6" stroke="#a0a0a0" stroke-width="0.8"/>
<line x1="389.7" y1="310.4" x2="391.5" y2="310.4" stroke="#a0a0a0" stroke-width="0.8"/>
<line x1="389.7" y1="306.2" x2="391.5" y2="306.2" stroke="#a0a0a0" stroke-width="0.8"/>
<line x1="388.3" y1="302" x2="391.5" y2="302" stroke="#a0a0a0" stroke-width="0.8"/>
<line x1="389.7" y1="297.8" x2="391.5" y2="297.8" stroke="#a0a0a0" stroke-width="0.8"/>
<line x1="389.7" y1="293.6" x2="391.5" y2="293.6" stroke="#a0a0a0" stroke-width="0.8"/>
<line x1="389.7" y1="289.4" x2="391.5" y2="289.4" stroke="#a0a0a0" stroke-width="0.8"/>
<line x1="389.7" y1="285.2" x2="391.5" y2="285.2" stroke="#a0a0a0" stroke-width="0.8"/>
<line x1="388.3" y1="281" x2="391.5" y2="281" stroke="#a0a0a0" stroke-width="0.8"/>
<line x1="389.7" y1="276.8" x2="391.5" y2="276.8" stroke="#a0a0a0" stroke-width="0.8"/>
<text x="388.6" y="325.15" font-size="6.2" fill="#202020" stroke="#202020" stroke-width="0.15" text-anchor="end">00</text>
<text x="388.6" y="304.15" font-size="6.2" fill="#202020" stroke="#202020" stroke-width="0.15" text-anchor="end">50</text>
<text x="388.6" y="283.15" font-size="6.2" fill="#202020" stroke="#202020" stroke-width="0.15" text-anchor="end">00</text>
<line x1="392.2" y1="324.25" x2="392.2" y2="326.05" stroke="#a0a0a0" stroke-width="0.8"/>
<line x1="399.18" y1="324.25" x2="399.18" y2="326.05" stroke="#a0a0a0" stroke-width="0.8"/>
<line x1="406.17" y1="324.25" x2="406.17" y2="326.05" stroke="#a0a0a0" stroke-width="0.8"/>
<line x1="413.15" y1="324.25" x2="413.15" y2="326.05" stroke="#a0a0a0" stroke-width="0.8"/>
<line x1="420.14" y1="324.25" x2="420.14" y2="327.25" stroke="#a0a0a0" stroke-width="0.8"/>
<text x="420.14" y="334.1" font-size="6.2" fill="#202020" stroke="#202020" stroke-width="0.15" text-anchor="middle">250,00</text>
<line x1="427.12" y1="324.25" x2="427.12" y2="326.05" stroke="#a0a0a0" stroke-width="0.8"/>
<line x1="434.11" y1="324.25" x2="434.11" y2="326.05" stroke="#a0a0a0" stroke-width="0.8"/>
<line x1="441.09" y1="324.25" x2="441.09" y2="326.05" stroke="#a0a0a0" stroke-width="0.8"/>
<line x1="448.07" y1="324.25" x2="448.07" y2="326.05" stroke="#a0a0a0" stroke-width="0.8"/>
<line x1="455.06" y1="324.25" x2="455.06" y2="327.25" stroke="#a0a0a0" stroke-width="0.8"/>
<text x="455.06" y="334.1" font-size="6.2" fill="#202020" stroke="#202020" stroke-width="0.15" text-anchor="middle">300,00</text>
<line x1="462.04" y1="324.25" x2="462.04" y2="326.05" stroke="#a0a0a0" stroke-width="0.8"/>
<line x1="469.03" y1="324.25" x2="469.03" y2="326.05" stroke="#a0a0a0" stroke-width="0.8"/>
<line x1="476.01" y1="324.25" x2="476.01" y2="326.05" stroke="#a0a0a0" stroke-width="0.8"/>
<line x1="483" y1="324.25" x2="483" y2="326.05" stroke="#a0a0a0" stroke-width="0.8"/>
<line x1="489.98" y1="324.25" x2="489.98" y2="327.25" stroke="#a0a0a0" stroke-width="0.8"/>
<text x="489.98" y="334.1" font-size="6.2" fill="#202020" stroke="#202020" stroke-width="0.15" text-anchor="middle">350,00</text>
<line x1="496.97" y1="324.25" x2="496.97" y2="326.05" stroke="#a0a0a0" stroke-width="0.8"/>
<line x1="503.95" y1="324.25" x2="503.95" y2="326.05" stroke="#a0a0a0" stroke-width="0.8"/>
<line x1="510.93" y1="324.25" x2="510.93" y2="326.05" stroke="#a0a0a0" stroke-width="0.8"/>
<line x1="517.92" y1="324.25" x2="517.92" y2="326.05" stroke="#a0a0a0" stroke-width="0.8"/>
<text x="456.3" y="342.3" font-size="6.2" fill="#202020" text-anchor="middle">nm</text>
<text x="391.4" y="282.1" font-size="7.0" fill="#1a1a1a" stroke="#1a1a1a" stroke-width="0.1">217,8</text>
<text x="465.85" y="281.5" font-size="7.0" fill="#1a1a1a" stroke="#1a1a1a" stroke-width="0.1">328,0</text>
<text x="438.1" y="314.9" font-size="10.75" fill="#111" stroke="#111" stroke-width="0.3">RT = 13.6</text>
<rect x="241.25" y="396.25" width="126" height="44.35" fill="#fff"/>
<path d="M242,396.6 C242.67,396.83 244.77,397.12 246,398 C247.23,398.88 248.32,400.11 249.4,401.9 C250.48,403.69 251.36,406.88 252.5,408.75 C253.64,410.62 255,411.96 256.25,413.1 C257.5,414.24 258.75,414.91 260,415.6 C261.25,416.29 262.5,416.73 263.75,417.25 C265,417.77 266.25,417.77 267.5,418.75 C268.75,419.73 270.21,421.74 271.25,423.1 C272.29,424.46 272.71,425.85 273.75,426.9 C274.79,427.95 276.04,429.51 277.5,429.4 C278.96,429.29 280.83,428.02 282.5,426.25 C284.17,424.48 285.83,420.94 287.5,418.75 C289.17,416.56 290.83,414.56 292.5,413.1 C294.17,411.64 295.62,410.93 297.5,410 C299.38,409.07 301.67,408.23 303.75,407.5 C305.83,406.77 308.12,406.43 310,405.6 C311.88,404.77 313.54,403.43 315,402.5 C316.46,401.57 317.29,400.78 318.75,400 C320.21,399.22 322.38,398.22 323.75,397.8 C325.12,397.38 325.75,397.23 327,397.5 C328.25,397.77 329.92,397.52 331.25,399.4 C332.58,401.27 333.54,405.52 335,408.75 C336.46,411.98 338.33,415.62 340,418.75 C341.67,421.88 343.33,424.89 345,427.5 C346.67,430.11 348.33,432.73 350,434.4 C351.67,436.07 353.12,436.82 355,437.5 C356.88,438.18 359.25,438.29 361.25,438.5 C363.25,438.71 366.04,438.71 367,438.75" fill="none" stroke="#8a8a8a" stroke-width="0.9"/>
<polyline points="367.25,396.25 241.25,396.25 241.25,440.6 367.25,440.6" fill="none" stroke="#a0a0a0" stroke-width="1"/>
<line x1="238.05" y1="440" x2="241.25" y2="440" stroke="#a0a0a0" stroke-width="0.8"/>
<line x1="239.45" y1="434.85" x2="241.25" y2="434.85" stroke="#a0a0a0" stroke-width="0.8"/>
<line x1="239.45" y1="429.7" x2="241.25" y2="429.7" stroke="#a0a0a0" stroke-width="0.8"/>
<line x1="239.45" y1="424.55" x2="241.25" y2="424.55" stroke="#a0a0a0" stroke-width="0.8"/>
<line x1="238.05" y1="419.4" x2="241.25" y2="419.4" stroke="#a0a0a0" stroke-width="0.8"/>
<line x1="239.45" y1="414.25" x2="241.25" y2="414.25" stroke="#a0a0a0" stroke-width="0.8"/>
<line x1="239.45" y1="409.1" x2="241.25" y2="409.1" stroke="#a0a0a0" stroke-width="0.8"/>
<line x1="239.45" y1="403.95" x2="241.25" y2="403.95" stroke="#a0a0a0" stroke-width="0.8"/>
<line x1="238.05" y1="398.8" x2="241.25" y2="398.8" stroke="#a0a0a0" stroke-width="0.8"/>
<text x="237.8" y="442.15" font-size="6.2" fill="#7a7a7a" stroke="#7a7a7a" stroke-width="0.15" text-anchor="end">0.00</text>
<text x="237.8" y="421.55" font-size="6.2" fill="#7a7a7a" stroke="#7a7a7a" stroke-width="0.15" text-anchor="end">0.20</text>
<text x="237.8" y="400.95" font-size="6.2" fill="#7a7a7a" stroke="#7a7a7a" stroke-width="0.15" text-anchor="end">0.40</text>
<line x1="247.91" y1="440.6" x2="247.91" y2="442.4" stroke="#a0a0a0" stroke-width="0.8"/>
<line x1="254.85" y1="440.6" x2="254.85" y2="442.4" stroke="#a0a0a0" stroke-width="0.8"/>
<line x1="261.79" y1="440.6" x2="261.79" y2="442.4" stroke="#a0a0a0" stroke-width="0.8"/>
<line x1="268.73" y1="440.6" x2="268.73" y2="443.6" stroke="#a0a0a0" stroke-width="0.8"/>
<text x="268.73" y="448.8" font-size="6.2" fill="#7a7a7a" stroke="#7a7a7a" stroke-width="0.15" text-anchor="middle">250,00</text>
<line x1="275.66" y1="440.6" x2="275.66" y2="442.4" stroke="#a0a0a0" stroke-width="0.8"/>
<line x1="282.6" y1="440.6" x2="282.6" y2="442.4" stroke="#a0a0a0" stroke-width="0.8"/>
<line x1="289.54" y1="440.6" x2="289.54" y2="442.4" stroke="#a0a0a0" stroke-width="0.8"/>
<line x1="296.48" y1="440.6" x2="296.48" y2="442.4" stroke="#a0a0a0" stroke-width="0.8"/>
<line x1="303.42" y1="440.6" x2="303.42" y2="443.6" stroke="#a0a0a0" stroke-width="0.8"/>
<text x="303.42" y="448.8" font-size="6.2" fill="#7a7a7a" stroke="#7a7a7a" stroke-width="0.15" text-anchor="middle">300,00</text>
<line x1="310.36" y1="440.6" x2="310.36" y2="442.4" stroke="#a0a0a0" stroke-width="0.8"/>
<line x1="317.29" y1="440.6" x2="317.29" y2="442.4" stroke="#a0a0a0" stroke-width="0.8"/>
<line x1="324.23" y1="440.6" x2="324.23" y2="442.4" stroke="#a0a0a0" stroke-width="0.8"/>
<line x1="331.17" y1="440.6" x2="331.17" y2="442.4" stroke="#a0a0a0" stroke-width="0.8"/>
<line x1="338.11" y1="440.6" x2="338.11" y2="443.6" stroke="#a0a0a0" stroke-width="0.8"/>
<text x="338.11" y="448.8" font-size="6.2" fill="#7a7a7a" stroke="#7a7a7a" stroke-width="0.15" text-anchor="middle">350,00</text>
<line x1="345.05" y1="440.6" x2="345.05" y2="442.4" stroke="#a0a0a0" stroke-width="0.8"/>
<line x1="351.99" y1="440.6" x2="351.99" y2="442.4" stroke="#a0a0a0" stroke-width="0.8"/>
<line x1="358.92" y1="440.6" x2="358.92" y2="442.4" stroke="#a0a0a0" stroke-width="0.8"/>
<line x1="365.86" y1="440.6" x2="365.86" y2="442.4" stroke="#a0a0a0" stroke-width="0.8"/>
<text x="304.7" y="455" font-size="6.2" fill="#202020" text-anchor="middle">nm</text>
<text transform="translate(222,419.6) rotate(-90)" font-size="6.2" fill="#202020" text-anchor="middle">AU</text>
<text x="241.5" y="401.5" font-size="7.0" fill="#1a1a1a" stroke="#1a1a1a" stroke-width="0.1">217,8</text>
<text x="315.85" y="401.9" font-size="7.0" fill="#1a1a1a" stroke="#1a1a1a" stroke-width="0.1">330,4</text>
<text x="286.4" y="433.5" font-size="10.75" fill="#111" stroke="#111" stroke-width="0.3">RT = 11.3</text>
<rect x="393.5" y="396.9" width="127.1" height="44.85" fill="#fff"/>
<path d="M394,397.5 C394.67,397.75 396.58,398.07 398,399 C399.42,399.93 401.12,401.27 402.5,403.1 C403.88,404.93 404.79,407.92 406.25,410 C407.71,412.08 409.79,414.31 411.25,415.6 C412.71,416.89 413.75,417.23 415,417.75 C416.25,418.27 417.29,417.75 418.75,418.75 C420.21,419.75 422.29,422.29 423.75,423.75 C425.21,425.21 426.46,426.77 427.5,427.5 C428.54,428.23 428.75,428.83 430,428.1 C431.25,427.37 433.33,425.08 435,423.1 C436.67,421.12 438.33,417.92 440,416.25 C441.67,414.58 443.33,413.83 445,413.1 C446.67,412.38 448.12,412.32 450,411.9 C451.88,411.48 454.17,411.23 456.25,410.6 C458.33,409.97 460.62,408.93 462.5,408.1 C464.38,407.27 465.83,406.37 467.5,405.6 C469.17,404.83 471.25,403.83 472.5,403.5 C473.75,403.17 473.75,403.14 475,403.6 C476.25,404.06 478.33,404.56 480,406.25 C481.67,407.94 483.33,411.04 485,413.75 C486.67,416.46 488.33,419.69 490,422.5 C491.67,425.31 493.33,428.31 495,430.6 C496.67,432.89 498.33,434.89 500,436.25 C501.67,437.61 502.92,438.17 505,438.75 C507.08,439.33 510,439.54 512.5,439.75 C515,439.96 518.75,439.96 520,440" fill="none" stroke="#8a8a8a" stroke-width="0.9"/>
<rect x="393.5" y="396.9" width="127.1" height="44.85" fill="none" stroke="#a0a0a0" stroke-width="1"/>
<line x1="390.3" y1="441.25" x2="393.5" y2="441.25" stroke="#a0a0a0" stroke-width="0.8"/>
<line x1="391.7" y1="438.05" x2="393.5" y2="438.05" stroke="#a0a0a0" stroke-width="0.8"/>
<line x1="391.7" y1="434.85" x2="393.5" y2="434.85" stroke="#a0a0a0" stroke-width="0.8"/>
<line x1="391.7" y1="431.65" x2="393.5" y2="431.65" stroke="#a0a0a0" stroke-width="0.8"/>
<line x1="390.3" y1="428.45" x2="393.5" y2="428.45" stroke="#a0a0a0" stroke-width="0.8"/>
<line x1="391.7" y1="425.25" x2="393.5" y2="425.25" stroke="#a0a0a0" stroke-width="0.8"/>
<line x1="391.7" y1="422.05" x2="393.5" y2="422.05" stroke="#a0a0a0" stroke-width="0.8"/>
<line x1="391.7" y1="418.85" x2="393.5" y2="418.85" stroke="#a0a0a0" stroke-width="0.8"/>
<line x1="390.3" y1="415.65" x2="393.5" y2="415.65" stroke="#a0a0a0" stroke-width="0.8"/>
<line x1="391.7" y1="412.45" x2="393.5" y2="412.45" stroke="#a0a0a0" stroke-width="0.8"/>
<line x1="391.7" y1="409.25" x2="393.5" y2="409.25" stroke="#a0a0a0" stroke-width="0.8"/>
<line x1="391.7" y1="406.05" x2="393.5" y2="406.05" stroke="#a0a0a0" stroke-width="0.8"/>
<line x1="390.3" y1="402.85" x2="393.5" y2="402.85" stroke="#a0a0a0" stroke-width="0.8"/>
<line x1="391.7" y1="399.65" x2="393.5" y2="399.65" stroke="#a0a0a0" stroke-width="0.8"/>
<text x="390.2" y="443.4" font-size="6.2" fill="#202020" stroke="#202020" stroke-width="0.15" text-anchor="end">0,00</text>
<text x="390.2" y="430.6" font-size="6.2" fill="#202020" stroke="#202020" stroke-width="0.15" text-anchor="end">0,20</text>
<text x="390.2" y="417.8" font-size="6.2" fill="#202020" stroke="#202020" stroke-width="0.15" text-anchor="end">0,40</text>
<text x="390.2" y="405" font-size="6.2" fill="#202020" stroke="#202020" stroke-width="0.15" text-anchor="end">0,60</text>
<line x1="393.84" y1="441.75" x2="393.84" y2="443.55" stroke="#a0a0a0" stroke-width="0.8"/>
<line x1="400.69" y1="441.75" x2="400.69" y2="443.55" stroke="#a0a0a0" stroke-width="0.8"/>
<line x1="407.55" y1="441.75" x2="407.55" y2="443.55" stroke="#a0a0a0" stroke-width="0.8"/>
<line x1="414.4" y1="441.75" x2="414.4" y2="443.55" stroke="#a0a0a0" stroke-width="0.8"/>
<line x1="421.25" y1="441.75" x2="421.25" y2="444.75" stroke="#a0a0a0" stroke-width="0.8"/>
<text x="421.25" y="450.2" font-size="6.2" fill="#202020" stroke="#202020" stroke-width="0.15" text-anchor="middle">250,00</text>
<line x1="428.1" y1="441.75" x2="428.1" y2="443.55" stroke="#a0a0a0" stroke-width="0.8"/>
<line x1="434.95" y1="441.75" x2="434.95" y2="443.55" stroke="#a0a0a0" stroke-width="0.8"/>
<line x1="441.8" y1="441.75" x2="441.8" y2="443.55" stroke="#a0a0a0" stroke-width="0.8"/>
<line x1="448.66" y1="441.75" x2="448.66" y2="443.55" stroke="#a0a0a0" stroke-width="0.8"/>
<line x1="455.51" y1="441.75" x2="455.51" y2="444.75" stroke="#a0a0a0" stroke-width="0.8"/>
<text x="455.51" y="450.2" font-size="6.2" fill="#202020" stroke="#202020" stroke-width="0.15" text-anchor="middle">300,00</text>
<line x1="462.36" y1="441.75" x2="462.36" y2="443.55" stroke="#a0a0a0" stroke-width="0.8"/>
<line x1="469.21" y1="441.75" x2="469.21" y2="443.55" stroke="#a0a0a0" stroke-width="0.8"/>
<line x1="476.06" y1="441.75" x2="476.06" y2="443.55" stroke="#a0a0a0" stroke-width="0.8"/>
<line x1="482.92" y1="441.75" x2="482.92" y2="443.55" stroke="#a0a0a0" stroke-width="0.8"/>
<line x1="489.77" y1="441.75" x2="489.77" y2="444.75" stroke="#a0a0a0" stroke-width="0.8"/>
<text x="489.77" y="450.2" font-size="6.2" fill="#202020" stroke="#202020" stroke-width="0.15" text-anchor="middle">350,00</text>
<line x1="496.62" y1="441.75" x2="496.62" y2="443.55" stroke="#a0a0a0" stroke-width="0.8"/>
<line x1="503.47" y1="441.75" x2="503.47" y2="443.55" stroke="#a0a0a0" stroke-width="0.8"/>
<line x1="510.32" y1="441.75" x2="510.32" y2="443.55" stroke="#a0a0a0" stroke-width="0.8"/>
<line x1="517.17" y1="441.75" x2="517.17" y2="443.55" stroke="#a0a0a0" stroke-width="0.8"/>
<text x="457.2" y="457.2" font-size="6.2" fill="#202020" text-anchor="middle">nm</text>
<text transform="translate(374.7,419.8) rotate(-90)" font-size="6.2" fill="#202020" text-anchor="middle">AU</text>
<text x="393.35" y="402.5" font-size="7.0" fill="#1a1a1a" stroke="#1a1a1a" stroke-width="0.1">217,8</text>
<text x="464.35" y="402.5" font-size="7.0" fill="#1a1a1a" stroke="#1a1a1a" stroke-width="0.1">325,7</text>
<text x="439.1" y="431.25" font-size="10.75" fill="#111" stroke="#111" stroke-width="0.3">RT = 13.6</text>
<rect x="59.47" y="4.8" width="470.13" height="113.1" fill="none" stroke="#5a5a5a" stroke-width="1.1"/>
<rect x="59.47" y="130.37" width="470.13" height="112.22" fill="none" stroke="#5a5a5a" stroke-width="1.1"/>
<rect x="59.47" y="255.32" width="470.13" height="112.94" fill="none" stroke="#5a5a5a" stroke-width="1.1"/>
<rect x="59.47" y="380.37" width="470.13" height="113" fill="none" stroke="#5a5a5a" stroke-width="1.1"/>
</svg>
</body></html>
